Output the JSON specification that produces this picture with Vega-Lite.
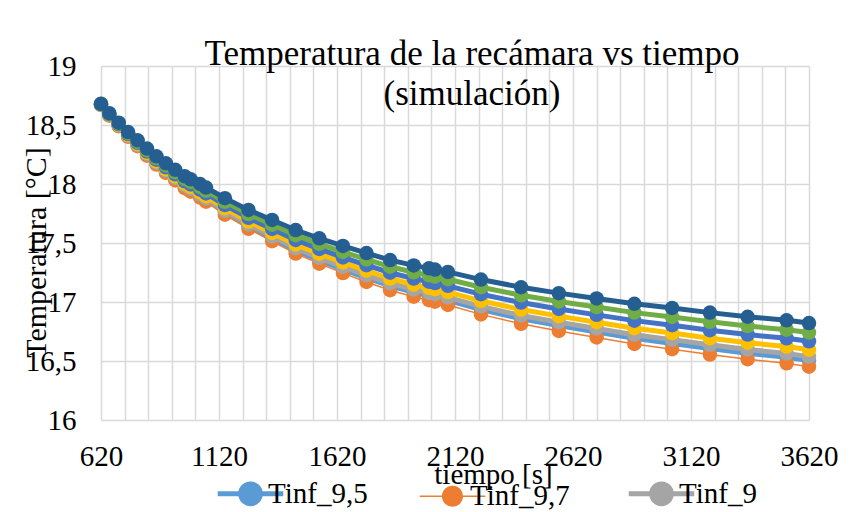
{
  "$schema": "https://vega.github.io/schema/vega-lite/v6.json",
  "width": 708,
  "height": 354,
  "autosize": {"type": "none"},
  "padding": {"left": 101, "top": 66, "right": 42, "bottom": 92},
  "background": "white",
  "config": {
    "locale": {"number": {"decimal": ",", "thousands": ".", "grouping": [3], "currency": ["", " €"]}},
    "view": {"stroke": null},
    "font": "Liberation Serif",
    "axis": {"labelFont": "Liberation Serif", "titleFont": "Liberation Serif"},
    "legend": {"labelFont": "Liberation Serif", "titleFont": "Liberation Serif"},
    "title": {"font": "Liberation Serif"}
  },
  "title": {
    "text": ["Temperatura de la recámara vs tiempo", "(simulación)"],
    "font": "Liberation Serif",
    "fontSize": 35,
    "fontWeight": "normal",
    "color": "black",
    "anchor": "middle",
    "frame": "group",
    "dx": 17,
    "offset": -60,
    "lineHeight": 40
  },
  "data": {
    "values": [
      {"t": 620, "Tinf_7": 18.68, "Tinf_7,5": 18.678, "Tinf_8": 18.676, "Tinf_8,5": 18.674, "Tinf_9": 18.672, "Tinf_9,5": 18.671, "Tinf_9,7": 18.67},
      {"t": 655, "Tinf_7": 18.6, "Tinf_7,5": 18.596, "Tinf_8": 18.592, "Tinf_8,5": 18.588, "Tinf_9": 18.585, "Tinf_9,5": 18.583, "Tinf_9,7": 18.58},
      {"t": 695, "Tinf_7": 18.52, "Tinf_7,5": 18.513, "Tinf_8": 18.507, "Tinf_8,5": 18.502, "Tinf_9": 18.497, "Tinf_9,5": 18.494, "Tinf_9,7": 18.49},
      {"t": 735, "Tinf_7": 18.44, "Tinf_7,5": 18.431, "Tinf_8": 18.423, "Tinf_8,5": 18.416, "Tinf_9": 18.409, "Tinf_9,5": 18.406, "Tinf_9,7": 18.4},
      {"t": 775, "Tinf_7": 18.37, "Tinf_7,5": 18.359, "Tinf_8": 18.349, "Tinf_8,5": 18.34, "Tinf_9": 18.332, "Tinf_9,5": 18.327, "Tinf_9,7": 18.32},
      {"t": 815, "Tinf_7": 18.3, "Tinf_7,5": 18.287, "Tinf_8": 18.275, "Tinf_8,5": 18.263, "Tinf_9": 18.254, "Tinf_9,5": 18.248, "Tinf_9,7": 18.24},
      {"t": 855, "Tinf_7": 18.235, "Tinf_7,5": 18.22, "Tinf_8": 18.206, "Tinf_8,5": 18.192, "Tinf_9": 18.181, "Tinf_9,5": 18.175, "Tinf_9,7": 18.165},
      {"t": 895, "Tinf_7": 18.175, "Tinf_7,5": 18.157, "Tinf_8": 18.141, "Tinf_8,5": 18.126, "Tinf_9": 18.113, "Tinf_9,5": 18.106, "Tinf_9,7": 18.095},
      {"t": 935, "Tinf_7": 18.12, "Tinf_7,5": 18.1, "Tinf_8": 18.082, "Tinf_8,5": 18.065, "Tinf_9": 18.051, "Tinf_9,5": 18.043, "Tinf_9,7": 18.03},
      {"t": 975, "Tinf_7": 18.065, "Tinf_7,5": 18.043, "Tinf_8": 18.023, "Tinf_8,5": 18.004, "Tinf_9": 17.988, "Tinf_9,5": 17.979, "Tinf_9,7": 17.965},
      {"t": 1000, "Tinf_7": 18.04, "Tinf_7,5": 18.017, "Tinf_8": 17.996, "Tinf_8,5": 17.976, "Tinf_9": 17.959, "Tinf_9,5": 17.95, "Tinf_9,7": 17.935},
      {"t": 1040, "Tinf_7": 18.0, "Tinf_7,5": 17.975, "Tinf_8": 17.952, "Tinf_8,5": 17.93, "Tinf_9": 17.911, "Tinf_9,5": 17.901, "Tinf_9,7": 17.885},
      {"t": 1065, "Tinf_7": 17.97, "Tinf_7,5": 17.944, "Tinf_8": 17.92, "Tinf_8,5": 17.897, "Tinf_9": 17.878, "Tinf_9,5": 17.867, "Tinf_9,7": 17.85},
      {"t": 1145, "Tinf_7": 17.88, "Tinf_7,5": 17.849, "Tinf_8": 17.821, "Tinf_8,5": 17.795, "Tinf_9": 17.772, "Tinf_9,5": 17.76, "Tinf_9,7": 17.74},
      {"t": 1245, "Tinf_7": 17.78, "Tinf_7,5": 17.745, "Tinf_8": 17.713, "Tinf_8,5": 17.682, "Tinf_9": 17.657, "Tinf_9,5": 17.642, "Tinf_9,7": 17.62},
      {"t": 1345, "Tinf_7": 17.695, "Tinf_7,5": 17.655, "Tinf_8": 17.619, "Tinf_8,5": 17.585, "Tinf_9": 17.556, "Tinf_9,5": 17.54, "Tinf_9,7": 17.515},
      {"t": 1445, "Tinf_7": 17.61, "Tinf_7,5": 17.566, "Tinf_8": 17.526, "Tinf_8,5": 17.488, "Tinf_9": 17.456, "Tinf_9,5": 17.438, "Tinf_9,7": 17.41},
      {"t": 1545, "Tinf_7": 17.54, "Tinf_7,5": 17.493, "Tinf_8": 17.45, "Tinf_8,5": 17.409, "Tinf_9": 17.374, "Tinf_9,5": 17.355, "Tinf_9,7": 17.325},
      {"t": 1645, "Tinf_7": 17.475, "Tinf_7,5": 17.424, "Tinf_8": 17.378, "Tinf_8,5": 17.335, "Tinf_9": 17.298, "Tinf_9,5": 17.277, "Tinf_9,7": 17.245},
      {"t": 1745, "Tinf_7": 17.415, "Tinf_7,5": 17.361, "Tinf_8": 17.312, "Tinf_8,5": 17.266, "Tinf_9": 17.226, "Tinf_9,5": 17.204, "Tinf_9,7": 17.17},
      {"t": 1845, "Tinf_7": 17.355, "Tinf_7,5": 17.299, "Tinf_8": 17.248, "Tinf_8,5": 17.199, "Tinf_9": 17.159, "Tinf_9,5": 17.136, "Tinf_9,7": 17.1},
      {"t": 1945, "Tinf_7": 17.31, "Tinf_7,5": 17.252, "Tinf_8": 17.199, "Tinf_8,5": 17.148, "Tinf_9": 17.106, "Tinf_9,5": 17.082, "Tinf_9,7": 17.045},
      {"t": 2010, "Tinf_7": 17.285, "Tinf_7,5": 17.226, "Tinf_8": 17.172, "Tinf_8,5": 17.12, "Tinf_9": 17.077, "Tinf_9,5": 17.053, "Tinf_9,7": 17.015},
      {"t": 2035, "Tinf_7": 17.275, "Tinf_7,5": 17.215, "Tinf_8": 17.161, "Tinf_8,5": 17.109, "Tinf_9": 17.066, "Tinf_9,5": 17.041, "Tinf_9,7": 17.003},
      {"t": 2090, "Tinf_7": 17.255, "Tinf_7,5": 17.193, "Tinf_8": 17.137, "Tinf_8,5": 17.084, "Tinf_9": 17.039, "Tinf_9,5": 17.014, "Tinf_9,7": 16.975},
      {"t": 2230, "Tinf_7": 17.19, "Tinf_7,5": 17.125, "Tinf_8": 17.066, "Tinf_8,5": 17.01, "Tinf_9": 16.963, "Tinf_9,5": 16.936, "Tinf_9,7": 16.895},
      {"t": 2400, "Tinf_7": 17.125, "Tinf_7,5": 17.057, "Tinf_8": 16.995, "Tinf_8,5": 16.936, "Tinf_9": 16.886, "Tinf_9,5": 16.858, "Tinf_9,7": 16.815},
      {"t": 2560, "Tinf_7": 17.075, "Tinf_7,5": 17.005, "Tinf_8": 16.941, "Tinf_8,5": 16.88, "Tinf_9": 16.829, "Tinf_9,5": 16.8, "Tinf_9,7": 16.755},
      {"t": 2720, "Tinf_7": 17.03, "Tinf_7,5": 16.957, "Tinf_8": 16.891, "Tinf_8,5": 16.829, "Tinf_9": 16.776, "Tinf_9,5": 16.746, "Tinf_9,7": 16.7},
      {"t": 2880, "Tinf_7": 16.985, "Tinf_7,5": 16.91, "Tinf_8": 16.842, "Tinf_8,5": 16.778, "Tinf_9": 16.723, "Tinf_9,5": 16.693, "Tinf_9,7": 16.645},
      {"t": 3040, "Tinf_7": 16.95, "Tinf_7,5": 16.873, "Tinf_8": 16.803, "Tinf_8,5": 16.737, "Tinf_9": 16.681, "Tinf_9,5": 16.649, "Tinf_9,7": 16.6},
      {"t": 3200, "Tinf_7": 16.91, "Tinf_7,5": 16.832, "Tinf_8": 16.761, "Tinf_8,5": 16.693, "Tinf_9": 16.637, "Tinf_9,5": 16.605, "Tinf_9,7": 16.555},
      {"t": 3360, "Tinf_7": 16.875, "Tinf_7,5": 16.796, "Tinf_8": 16.724, "Tinf_8,5": 16.655, "Tinf_9": 16.598, "Tinf_9,5": 16.565, "Tinf_9,7": 16.515},
      {"t": 3525, "Tinf_7": 16.845, "Tinf_7,5": 16.765, "Tinf_8": 16.692, "Tinf_8,5": 16.622, "Tinf_9": 16.564, "Tinf_9,5": 16.531, "Tinf_9,7": 16.48},
      {"t": 3620, "Tinf_7": 16.822, "Tinf_7,5": 16.741, "Tinf_8": 16.667, "Tinf_8,5": 16.596, "Tinf_9": 16.537, "Tinf_9,5": 16.504, "Tinf_9,7": 16.452}
    ]
  },
  "transform": [
    {"fold": ["Tinf_9,5", "Tinf_9,7", "Tinf_9", "Tinf_8,5", "Tinf_8", "Tinf_7,5", "Tinf_7"], "as": ["serie", "temp"]}
  ],
  "encoding": {
    "x": {
      "field": "t", "type": "quantitative",
      "scale": {"domain": [620, 3620], "nice": false, "zero": false},
      "axis": {
        "title": "tiempo [s]",
        "values": [620,720,820,920,1020,1120,1220,1320,1420,1520,1620,1720,1820,1920,2020,2120,2220,2320,2420,2520,2620,2720,2820,2920,3020,3120,3220,3320,3420,3520,3620],
        "format": "d",
        "labelExpr": "(datum.value - 620) % 500 == 0 ? datum.label : ''",
        "labelFlush": false,
        "labelOverlap": false,
        "labelFont": "Liberation Serif",
        "labelFontSize": 29,
        "labelColor": "black",
        "labelPadding": 22,
        "ticks": false,
        "domain": false,
        "grid": true,
        "gridColor": "#D9D9D9",
        "gridWidth": 1.5,
        "titleFont": "Liberation Serif",
        "titleFontSize": 29,
        "titleFontWeight": "normal",
        "titleColor": "black",
        "titleX": 392,
        "titleY": 54,
        "titleBaseline": "middle",
        "titleAlign": "center"
      }
    },
    "y": {
      "field": "temp", "type": "quantitative",
      "scale": {"domain": [16, 19], "nice": false, "zero": false},
      "axis": {
        "title": "Temperatura [°C]",
        "values": [16, 16.5, 17, 17.5, 18, 18.5, 19],
        "format": ".1~f",
        "labelFont": "Liberation Serif",
        "labelFontSize": 29,
        "labelColor": "black",
        "labelPadding": 25,
        "ticks": false,
        "domain": false,
        "grid": true,
        "gridColor": "#D9D9D9",
        "gridWidth": 1.5,
        "titleFont": "Liberation Serif",
        "titleFontSize": 30,
        "titleFontWeight": "normal",
        "titleColor": "black",
        "titleAngle": 270,
        "titleX": -65,
        "titleY": 186,
        "titleBaseline": "middle",
        "titleAlign": "center"
      }
    },
    "color": {
      "field": "serie", "type": "nominal",
      "scale": {
        "domain": ["Tinf_9,5", "Tinf_9,7", "Tinf_9", "Tinf_8,5", "Tinf_8", "Tinf_7,5", "Tinf_7"],
        "range": ["#5B9BD5", "#ED7D31", "#A5A5A5", "#FFC000", "#4472C4", "#70AD47", "#255E91"]
      },
      "legend": {
        "values": ["Tinf_9,5", "Tinf_9,7", "Tinf_9"],
        "title": null,
        "orient": "none",
        "direction": "horizontal",
        "legendX": 135,
        "legendY": 413,
        "labelFont": "Liberation Serif",
        "labelFontSize": 29,
        "labelColor": "black",
        "labelOffset": 3,
        "columnPadding": 48,
        "symbolType": "M-1,0L1,0M-0.3,0A0.3,0.3 0 1,0 0.3,0A0.3,0.3 0 1,0 -0.3,0Z",
        "symbolSize": 4300,
        "symbolStrokeWidth": 5,
        "encode": {
          "symbols": {
            "update": {
              "fill": {"scale": "color", "field": "value"},
              "strokeWidth": {"signal": "datum.value === 'Tinf_9,7' ? 1.5 : 5"}
            }
          }
        }
      }
    }
  },
  "layer": [
    {"transform": [{"filter": "datum.serie === 'Tinf_9,5'"}], "mark": {"type": "line", "strokeWidth": 5, "point": {"filled": true, "size": 210, "opacity": 1}}},
    {"transform": [{"filter": "datum.serie === 'Tinf_9,7'"}], "mark": {"type": "line", "strokeWidth": 1.5, "point": {"filled": true, "size": 210, "opacity": 1}}},
    {"transform": [{"filter": "datum.serie === 'Tinf_9'"}], "mark": {"type": "line", "strokeWidth": 5, "point": {"filled": true, "size": 210, "opacity": 1}}},
    {"transform": [{"filter": "datum.serie === 'Tinf_8,5'"}], "mark": {"type": "line", "strokeWidth": 5, "point": {"filled": true, "size": 210, "opacity": 1}}},
    {"transform": [{"filter": "datum.serie === 'Tinf_8'"}], "mark": {"type": "line", "strokeWidth": 5, "point": {"filled": true, "size": 210, "opacity": 1}}},
    {"transform": [{"filter": "datum.serie === 'Tinf_7,5'"}], "mark": {"type": "line", "strokeWidth": 5, "point": {"filled": true, "size": 210, "opacity": 1}}},
    {"transform": [{"filter": "datum.serie === 'Tinf_7'"}], "mark": {"type": "line", "strokeWidth": 5, "point": {"filled": true, "size": 210, "opacity": 1}}}
  ]
}
